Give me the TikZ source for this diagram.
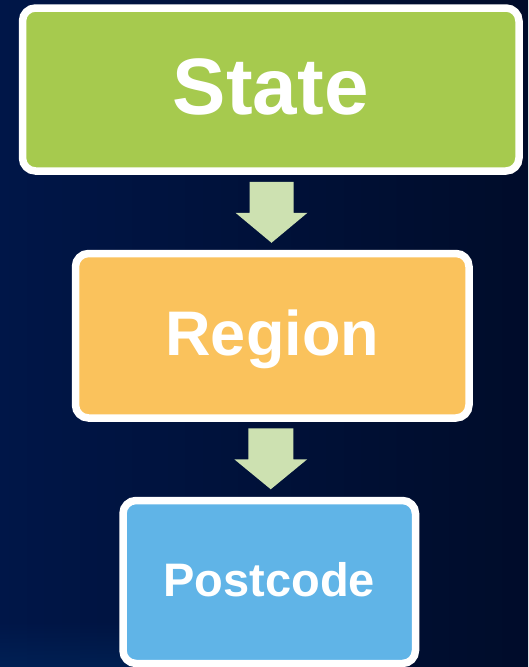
\documentclass[tikz,border=0pt]{standalone}
\usepackage{fontspec}
\setmainfont{Liberation Sans}
\usetikzlibrary{calc,fadings}
\definecolor{bgleft}{RGB}{0,22,72}
\definecolor{bgright}{RGB}{0,12,42}
\definecolor{bgglow}{RGB}{0,45,100}
\definecolor{boxgreen}{RGB}{166,202,78}
\definecolor{boxorange}{RGB}{250,194,92}
\definecolor{boxblue}{RGB}{96,180,231}
\definecolor{arrowgreen}{RGB}{205,225,177}
\tikzset{
  levelbox/.style={draw=white, line width=7.5pt, rounded corners=13pt,
    inner sep=0pt, text=white, align=center},
  blockarrow/.style={fill=arrowgreen, draw=none}
}
\begin{document}
\begin{tikzpicture}[x=1pt,y=-1pt]
  \useasboundingbox (0,0) rectangle (528,667);
  \shade[left color=bgleft, right color=bgright] (0,0) rectangle (528,667);
  \fill[bgglow, opacity=0.45, path fading=north] (0,620) rectangle (140,667);

  \node[levelbox, fill=boxgreen, minimum width=496.5pt, minimum height=163pt,
        font=\bfseries\fontsize{80}{90}\selectfont, text height=57.3pt, text depth=6.4pt]
        (state) at (270.75,89.5) {State};
  \node[levelbox, fill=boxorange, minimum width=393.5pt, minimum height=164.5pt,
        font=\bfseries\fontsize{63}{72}\selectfont, text height=45.1pt, text depth=5pt]
        (region) at (272.25,335.75) {Region};
  \node[levelbox, fill=boxblue, minimum width=292.5pt, minimum height=163pt,
        font=\bfseries\fontsize{47}{56}\selectfont, text height=33.7pt, text depth=3.8pt]
        (postcode) at (269.25,582) {Postcode};

  \coordinate (m1) at ($(state.south)!0.5!(region.north)$);
  \coordinate (m2) at ($(region.south)!0.5!(postcode.north)$);

  \fill[blockarrow] ($(m1)+(-22,-30.5)$) -- ($(m1)+(22,-30.5)$) -- ($(m1)+(22,0.5)$)
    -- ($(m1)+(36,0.5)$) -- ($(m1)+(0,30.5)$) -- ($(m1)+(-36,0.5)$)
    -- ($(m1)+(-22,0.5)$) -- cycle;
  \fill[blockarrow] ($(m2)+(-22.5,-31)$) -- ($(m2)+(22.5,-31)$) -- ($(m2)+(22.5,0)$)
    -- ($(m2)+(36.5,0)$) -- ($(m2)+(0,30)$) -- ($(m2)+(-36.5,0)$)
    -- ($(m2)+(-22.5,0)$) -- cycle;
\end{tikzpicture}
\end{document}
